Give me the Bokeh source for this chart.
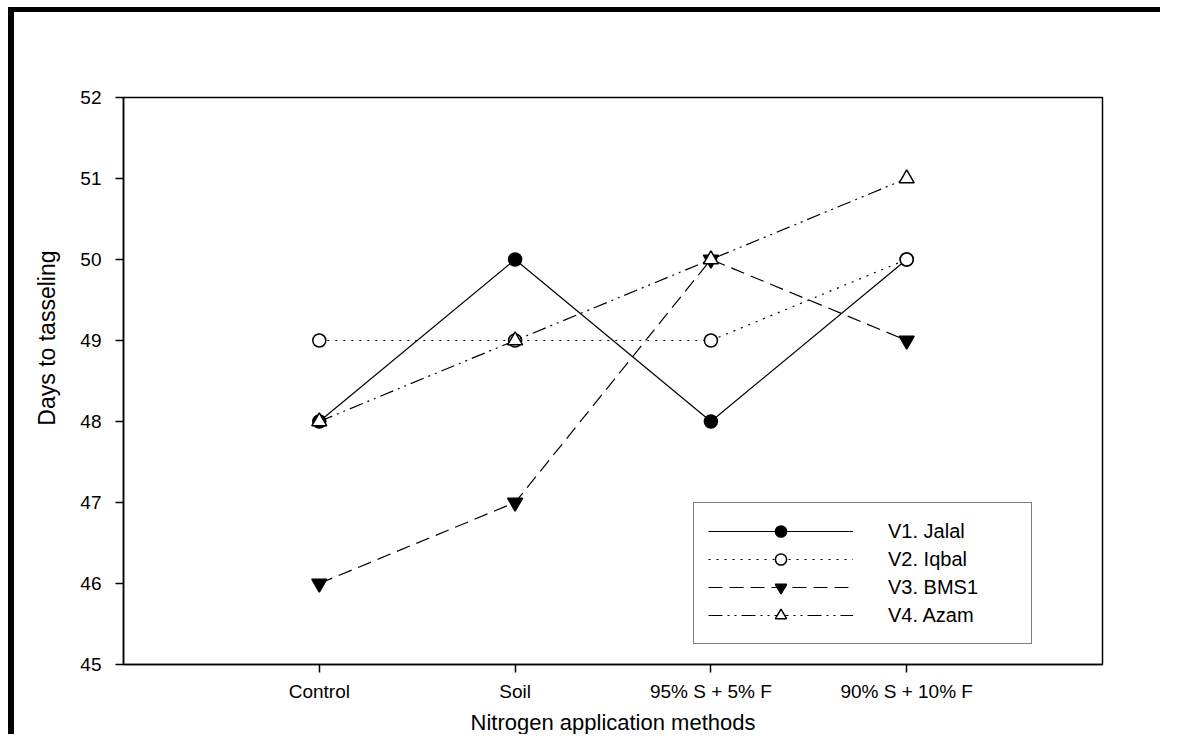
from bokeh.plotting import figure
from bokeh.models import Range1d, FixedTicker, Legend, LegendItem, Title
from bokeh.embed import file_html
from bokeh.resources import INLINE

categories = ["Control", "Soil", "95% S + 5% F", "90% S + 10% F"]
jalal = [48, 50, 48, 50]
iqbal = [49, 49, 49, 50]
bms1 = [46, 47, 50, 49]
azam = [48, 49, 50, 51]
y_ticks = [45, 46, 47, 48, 49, 50, 51, 52]

xpos = list(range(1, len(categories) + 1))

FONT = "Liberation Sans"

p = figure(width=1152, height=727, output_backend="svg", toolbar_location=None,
           x_range=Range1d(0, len(categories) + 1), y_range=Range1d(45, 52),
           min_border_left=109, min_border_right=64, min_border_top=85, min_border_bottom=75)
p.styles = {"border-left": "6px solid black", "border-top": "5px solid black",
            "margin-left": "8px", "margin-top": "7px"}

p.xgrid.visible = False
p.ygrid.visible = False
p.outline_line_color = "black"
p.outline_line_width = 1.5

p.xaxis.ticker = FixedTicker(ticks=xpos)
p.xaxis.major_label_overrides = {i: c for i, c in zip(xpos, categories)}
p.yaxis.ticker = FixedTicker(ticks=y_ticks)

for ax in (p.xaxis[0], p.yaxis[0]):
    ax.axis_line_color = "black"
    ax.axis_line_width = 1.5
    ax.major_tick_line_color = "black"
    ax.major_tick_line_width = 1.5
    ax.major_tick_in = 0
    ax.major_tick_out = 8
    ax.minor_tick_line_color = None
    ax.major_label_text_font = FONT
    ax.major_label_text_font_size = "19px"
    ax.major_label_text_color = "black"
p.xaxis.major_label_standoff = 8
p.yaxis.major_label_standoff = 14

p.xaxis.axis_label = "Nitrogen application methods"
p.xaxis.axis_label_text_font = FONT
p.xaxis.axis_label_text_font_size = "22px"
p.xaxis.axis_label_text_font_style = "normal"
p.xaxis.axis_label_text_color = "black"
p.xaxis.axis_label_standoff = 5

ytitle = Title(text="Days to tasseling", align="right", offset=153,
               text_font=FONT, text_font_size="23px", text_font_style="normal",
               text_color="black", standoff=35)
p.add_layout(ytitle, "left")

series = [
    ("V1. Jalal", jalal, "solid", "circle", "black", 13),
    ("V2. Iqbal", iqbal, "2 6", "circle", "white", 13),
    ("V3. BMS1", bms1, "14 7", "inverted_triangle", "black", 15),
    ("V4. Azam", azam, "14 5 2 5 2 5", "triangle", "white", 15),
]

items = []
for name, vals, dash, marker, fill, size in series:
    r1 = p.line(xpos, vals, line_color="black", line_width=1.2, line_dash=dash)
    r2 = p.scatter(xpos, vals, marker=marker, size=size, fill_color=fill,
                   line_color="black", line_width=1.5)
    items.append(LegendItem(label=name, renderers=[r1, r2]))

legend = Legend(items=items, location=(570, 20), glyph_width=145, glyph_height=28,
                label_standoff=35, label_width=129, spacing=0, padding=14,
                label_text_font=FONT, label_text_font_size="20px", label_text_color="black",
                border_line_color="black", border_line_width=1.5, background_fill_alpha=1,
                margin=0)
p.add_layout(legend, "center")

open("out.html", "w").write(file_html(p, INLINE))
